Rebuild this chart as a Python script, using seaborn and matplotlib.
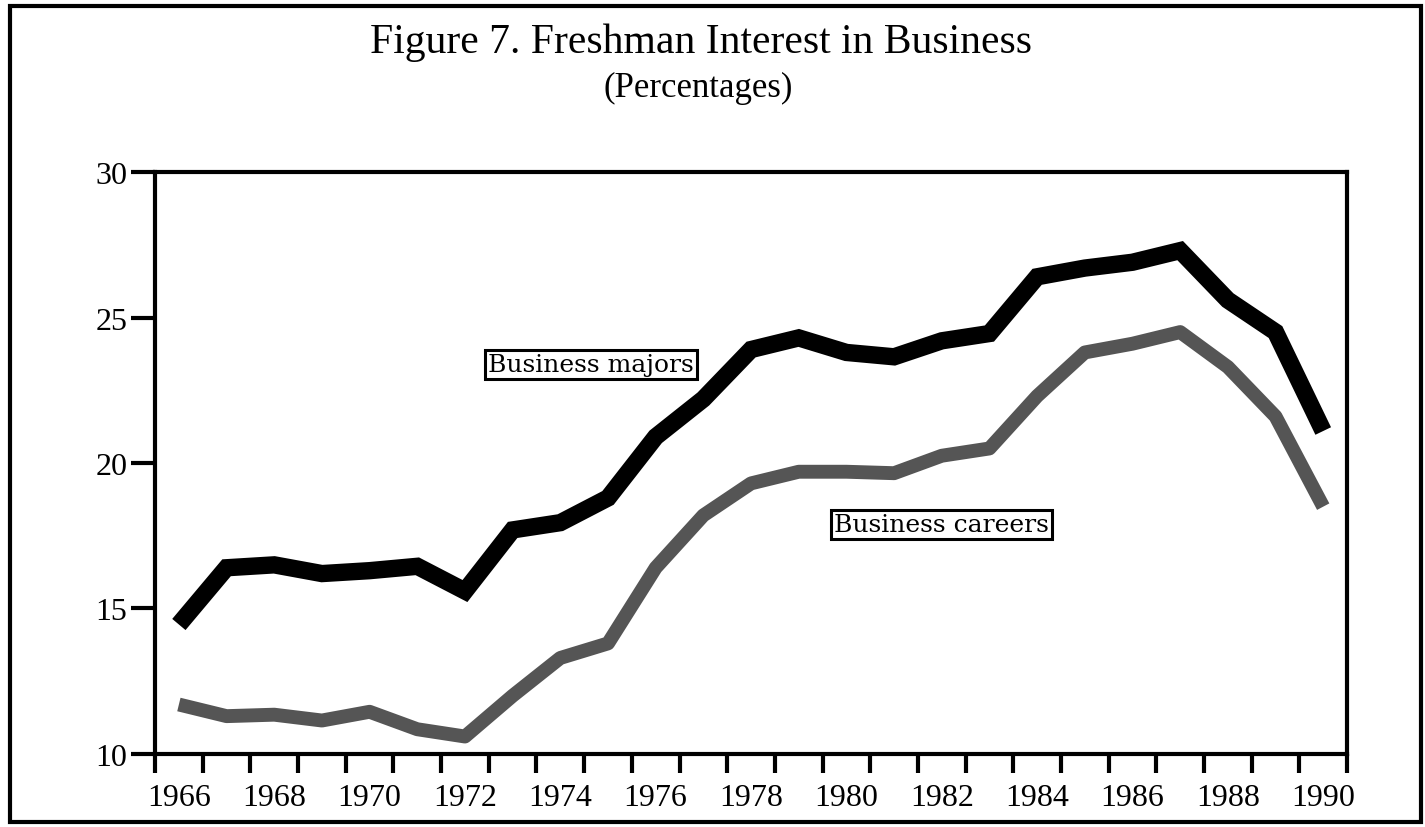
"""
Figure 7. Freshman Interest in Business (percentages), 1966-1990.
Redrawn with seaborn; writes out.png.
"""

import pandas as pd
import matplotlib.pyplot as plt
import seaborn as sns
from matplotlib.patches import Rectangle

# =========================================================
# Data
# =========================================================
YEARS = list(range(1966, 1991))

BUSINESS_MAJORS = [
    14.45, 16.4, 16.5, 16.2, 16.3, 16.45, 15.6, 17.7, 17.95, 18.8,
    20.9, 22.2, 23.9, 24.3, 23.8, 23.65, 24.2, 24.45, 26.4, 26.7,
    26.9, 27.3, 25.6, 24.5, 21.1,
]
BUSINESS_CAREERS = [
    11.7, 11.3, 11.35, 11.15, 11.45, 10.85, 10.6, 12.0, 13.3, 13.8,
    16.4, 18.2, 19.3, 19.7, 19.7, 19.65, 20.25, 20.5, 22.3, 23.8,
    24.1, 24.5, 23.3, 21.6, 18.5,
]

Y_TICKS = [10, 15, 20, 25, 30]
X_LABEL_YEARS = list(range(1966, 1991, 2))

TITLE = "Figure 7. Freshman Interest in Business"
SUBTITLE = "(Percentages)"
LABEL_MAJORS = "Business majors"
LABEL_CAREERS = "Business careers"

# =========================================================
# Style
# =========================================================
sns.set_theme(style="white")
plt.rcParams["font.family"] = ["Liberation Serif", "DejaVu Serif"]
plt.rcParams["text.color"] = "black"
plt.rcParams["xtick.color"] = "black"
plt.rcParams["ytick.color"] = "black"

df = pd.concat([
    pd.DataFrame({"year": YEARS, "pct": BUSINESS_MAJORS, "series": LABEL_MAJORS}),
    pd.DataFrame({"year": YEARS, "pct": BUSINESS_CAREERS, "series": LABEL_CAREERS}),
])

fig = plt.figure(figsize=(14.25, 8.28), dpi=100)
ax = fig.add_axes([0.1088, 0.0882, 0.8365, 0.7028])

# careers first so majors sits on top
sns.lineplot(data=df[df["series"] == LABEL_CAREERS], x="year", y="pct",
             color="#555555", lw=10, ax=ax, legend=False,
             solid_joinstyle="round", solid_capstyle="butt")
sns.lineplot(data=df[df["series"] == LABEL_MAJORS], x="year", y="pct",
             color="black", lw=12.5, ax=ax, legend=False,
             solid_joinstyle="miter", solid_capstyle="butt")

# axes: years as categories, ticks on the boundaries
ax.set_xlim(YEARS[0] - 0.5, YEARS[-1] + 0.5)
ax.set_ylim(10, 30)
ax.set_xticks([y - 0.5 for y in YEARS] + [YEARS[-1] + 0.5])
ax.set_xticklabels([])
ax.set_xticks(X_LABEL_YEARS, minor=True)
ax.set_xticklabels([str(y) for y in X_LABEL_YEARS], minor=True)
ax.tick_params(axis="x", which="major", direction="out", length=14, width=3,
               bottom=True)
ax.tick_params(axis="x", which="minor", length=0, pad=21, labelsize=23)
ax.set_yticks(Y_TICKS)
ax.set_yticklabels([str(v) for v in Y_TICKS])
ax.tick_params(axis="y", direction="out", length=17, width=3,
               left=True, labelsize=23, pad=3)
ax.set_xlabel("")
ax.set_ylabel("")
for side in ["left", "right", "top", "bottom"]:
    ax.spines[side].set_visible(True)
    ax.spines[side].set_color("black")
    ax.spines[side].set_linewidth(3)

# boxed series labels
box = dict(boxstyle="square,pad=0.12", facecolor="white", edgecolor="black", lw=2.2)
ax.text(1974.65, 23.4, LABEL_MAJORS, ha="center", va="center", fontsize=18,
        family="DejaVu Serif", bbox=box)
ax.text(1982.0, 17.9, LABEL_CAREERS, ha="center", va="center", fontsize=18,
        family="DejaVu Serif", bbox=box)

# title block
fig.text(0.492, 0.948, TITLE, ha="center", va="center", fontsize=30)
fig.text(0.490, 0.893, SUBTITLE, ha="center", va="center", fontsize=25)

# frame around the whole figure
fig.patches.append(Rectangle((0.007, 0.006), 0.99, 0.986, transform=fig.transFigure,
                             fill=False, edgecolor="black", lw=3))

fig.savefig("out.png", dpi=100)
plt.close(fig)
